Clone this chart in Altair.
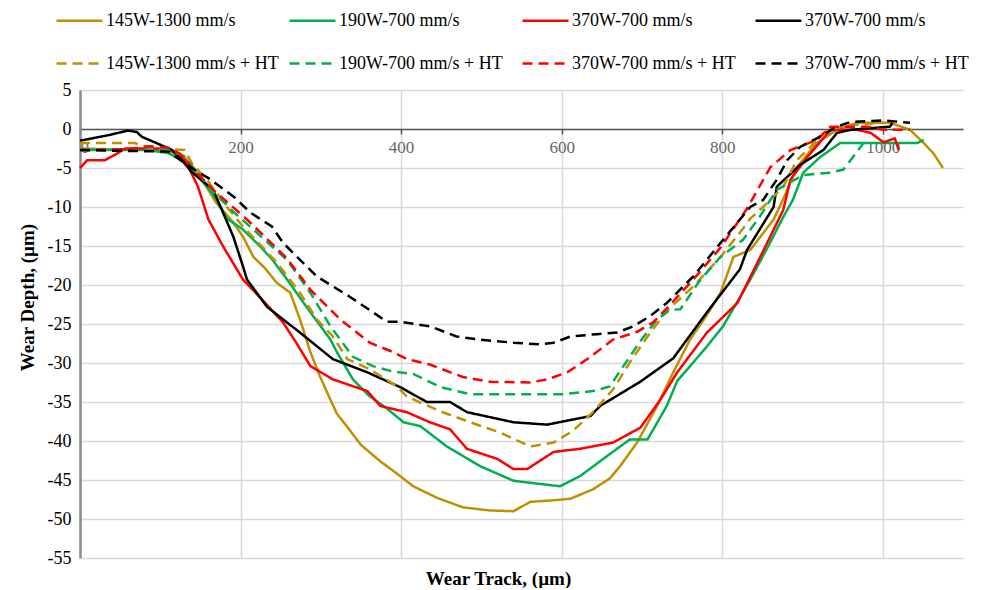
import altair as alt
import pandas as pd

# ---- data ----
names = ["145W-1300 mm/s", "190W-700 mm/s", "370W-700 mm/s", "370W-700 mm/s",
         "145W-1300 mm/s + HT", "190W-700 mm/s + HT", "370W-700 mm/s + HT", "370W-700 mm/s + HT"]
colors = ["#BF9000", "#00B050", "#FF0000", "#000000",
          "#BF9000", "#00B050", "#FF0000", "#000000"]
dashes = [[1, 0], [1, 0], [1, 0], [1, 0], [10, 6], [10, 6], [10, 6], [10, 6]]

s1_x = [0, 40, 80, 110, 130, 140, 155, 170, 191, 203, 216, 230, 245, 262, 274, 287, 298, 308, 320, 333, 350,
        374, 395, 415, 445, 477, 510, 540, 561, 590, 611, 639, 660, 673, 694, 719, 739, 760, 780, 798, 814,
        835, 850, 864, 876, 893, 918, 943, 968, 990, 1009, 1034, 1051, 1063, 1075]
s1_y = [-2.5, -2.6, -2.6, -2.8, -3.6, -4.8, -7, -9.5, -12, -13.8, -16.4, -17.8, -19.7, -21, -24.4, -28.6, -31.5,
        -33.8, -36.5, -38.2, -40.5, -42.6, -44.2, -45.8, -47.3, -48.5, -48.9, -49, -47.8, -47.6, -47.4, -46.2,
        -44.8, -43.2, -40.2, -35.5, -31.2, -27, -24, -21, -16.4, -15.5, -13.5, -11.6, -9, -4.9, -1.8, -0.1,
        0.8, 0.8, 0.8, -0.1, -1.8, -3.1, -5]

s2_x = [0, 40, 85, 110, 127, 139, 155, 168, 183, 202, 224, 240, 258, 287, 312, 320, 340, 360, 382, 403, 424,
        457, 498, 540, 573, 598, 623, 657, 685, 707, 731, 744, 760, 780, 801, 835, 856, 876, 888, 901, 922,
        947, 976, 1001, 1043, 1051]
s2_y = [-2.7, -2.7, -2.7, -3.1, -4, -5.2, -7, -8.7, -11.5, -12.8, -15, -16.8, -19.3, -23.5, -27, -28.6, -32.1,
        -34.2, -35.8, -37.6, -38.1, -40.7, -43.2, -45.1, -45.5, -45.8, -44.5, -41.9, -39.8, -39.8, -35.5,
        -32.3, -30.4, -28, -25.3, -19.3, -15.3, -11.3, -9.1, -5.6, -3.6, -1.8, -1.8, -1.8, -1.8, -1.4]

s3_x = [0, 9, 31, 47, 56, 97, 118, 131, 147, 160, 178, 203, 228, 253, 270, 287, 315, 358, 374, 390, 407, 436,
        461, 482, 520, 540, 557, 590, 623, 664, 698, 723, 744, 781, 819, 847, 876, 885, 906, 935, 968, 985,
        1001, 1015, 1020]
s3_y = [-5, -4, -4, -3.1, -2.5, -2.5, -2.9, -4, -7.4, -11.6, -15, -19.3, -22, -24.8, -27.5, -30.4, -32.1,
        -33.6, -35.5, -35.9, -36.3, -37.6, -38.5, -41, -42.3, -43.6, -43.6, -41.4, -41, -40.2, -38.3, -34.7,
        -31.2, -26.1, -22.3, -16.5, -10.4, -6.5, -3.6, -0.1, -0.1, -0.5, -1.7, -1.2, -2.7]

s4_x = [0, 35, 60, 71, 77, 93, 115, 127, 139, 166, 191, 203, 208, 233, 274, 315, 358, 399, 432, 461, 482, 540,
        582, 636, 648, 698, 739, 781, 822, 831, 864, 868, 897, 926, 943, 960, 1009, 1012]
s4_y = [-1.5, -0.8, -0.2, -0.4, -1, -1.7, -2.7, -4, -5.5, -7.8, -13.8, -17.6, -19.3, -22.8, -26.1, -29.5,
        -31.2, -33.1, -35, -35, -36.3, -37.6, -37.9, -36.8, -35.5, -32.4, -29.4, -23.5, -18, -15.5, -10,
        -7.4, -4.6, -2.7, -0.5, -0.1, 0.3, 0.8]

s5_x = [0, 68, 85, 130, 140, 158, 183, 203, 245, 274, 295, 315, 333, 361, 395, 407, 449, 486, 523, 561, 590,
        614, 639, 664, 685, 707, 731, 764, 798, 822, 835, 856, 876, 893, 910, 931, 960, 1000]
s5_y = [-1.8, -1.8, -2.4, -2.7, -4.5, -6.5, -10, -12.5, -17.1, -21, -24.4, -26.6, -29.5, -30.8, -33, -34.3,
        -36.2, -37.6, -38.9, -40.7, -40.2, -38.7, -36.3, -33.4, -29.9, -26.6, -23.3, -20.2, -16.4, -13.3,
        -11.5, -9.5, -7.4, -4, -2.3, -0.1, 0.5, 0.8]

s6_x = [0, 110, 130, 140, 166, 190, 216, 258, 287, 312, 340, 365, 390, 415, 449, 486, 540, 602, 639, 660, 677,
        698, 719, 735, 748, 773, 798, 826, 847, 868, 901, 935, 951, 963, 976, 985]
s6_y = [-2.7, -2.7, -3.5, -4.8, -8, -10.5, -12.9, -16.8, -21, -25.3, -29.2, -30.4, -31.1, -31.4, -33.1, -34,
        -34, -34, -33.6, -33, -30.4, -27.2, -24.4, -23.2, -23.1, -19.3, -16.4, -14.2, -11.2, -7.8, -5.9,
        -5.6, -5.2, -3.6, -1.8, -1.8]

s7_x = [0, 60, 85, 110, 125, 140, 166, 208, 258, 287, 324, 361, 390, 407, 436, 477, 511, 561, 582, 607, 632,
        664, 694, 714, 731, 764, 798, 831, 860, 885, 918, 935, 981, 1001, 1034]
s7_y = [-2.7, -2.6, -2.2, -2.4, -3.2, -5, -7.8, -11.6, -16.6, -20.6, -24.4, -27.4, -28.6, -29.5, -30.2,
        -31.8, -32.4, -32.5, -32.1, -31.2, -29.5, -27, -26, -24.8, -23, -19.3, -15.2, -10.2, -4.9, -2.7,
        -1.4, 0.3, 0.3, -0.1, -0.1]

s8_x = [0, 110, 139, 160, 193, 212, 239, 253, 295, 336, 365, 382, 399, 436, 469, 498, 540, 573, 590, 611, 644,
        669, 689, 710, 731, 764, 798, 835, 851, 868, 881, 897, 918, 943, 960, 1001, 1034]
s8_y = [-2.7, -2.9, -5, -6.3, -8.8, -10.7, -12.5, -14.6, -18.9, -21.5, -23.5, -24.7, -24.7, -25.3, -26.6,
        -27, -27.4, -27.6, -27.4, -26.6, -26.3, -26.1, -25.3, -24, -22.3, -18.9, -14.6, -10, -9.1, -6.5, -4,
        -2.3, -1.2, 0.3, 0.9, 1.1, 0.8]

x_ticks = [0, 200, 400, 600, 800, 1000]
y_ticks = [-55, -50, -45, -40, -35, -30, -25, -20, -15, -10, -5, 0, 5]

series_x = [s1_x, s2_x, s3_x, s4_x, s5_x, s6_x, s7_x, s8_x]
series_y = [s1_y, s2_y, s3_y, s4_y, s5_y, s6_y, s7_y, s8_y]

keys = [f"{i}|{n}" for i, n in enumerate(names)]
rows = []
for k, xs, ys in zip(keys, series_x, series_y):
    for xv, yv in zip(xs, ys):
        rows.append({"key": k, "x": xv, "y": yv})
df = pd.DataFrame(rows)

serif = "Liberation Serif"

legend = alt.Legend(
    orient="none", direction="horizontal", legendX=-25, legendY=-94, columns=4, gridAlign="all",
    columnPadding=5, rowPadding=9, symbolType="stroke", symbolSize=2116,
    symbolStrokeWidth=2.5, labelFont=serif, labelFontSize=18, labelLimit=300,
    labelOffset=2, labelColor="#000000", title=None, padding=0,
    labelExpr="split(datum.value, '|')[1]",
)

chart = alt.Chart(df).mark_line(strokeWidth=2.5).encode(
    x=alt.X("x:Q", scale=alt.Scale(domain=[0, 1100], nice=False),
            axis=alt.Axis(values=x_ticks, orient="bottom", offset=-429,
                          labelExpr="'' + datum.value",
                          title="Wear Track, (µm)", titleX=418, titleY=449,
                          titleBaseline="middle", titleAlign="center",
                          titleFont=serif, titleFontSize=19, titleFontWeight="bold", titleColor="#000000",
                          labelFont=serif, labelFontSize=17, labelColor="#666666", labelPadding=5,
                          domainColor="#555555", domainWidth=1.5,
                          tickColor="#555555", tickSize=5, tickWidth=1.5,
                          grid=True, gridColor="#d9d9d9", gridWidth=1.5)),
    y=alt.Y("y:Q", scale=alt.Scale(domain=[-55, 5], nice=False),
            axis=alt.Axis(values=y_ticks, title="Wear Depth, (µm)",
                          labelExpr="'' + datum.value",
                          titleX=-53, titleY=207, titleAngle=270,
                          titleBaseline="middle", titleAlign="center",
                          titleFont=serif, titleFontSize=19, titleFontWeight="bold", titleColor="#000000",
                          labelFont=serif, labelFontSize=18, labelColor="#000000", labelPadding=9,
                          ticks=False, domainColor="#8c8c8c", domainWidth=2.5,
                          grid=True, gridColor="#d9d9d9", gridWidth=1.5)),
    color=alt.Color("key:N", scale=alt.Scale(domain=keys, range=colors), legend=legend),
    strokeDash=alt.StrokeDash("key:N", scale=alt.Scale(domain=keys, range=dashes), legend=legend),
).properties(
    width=883, height=468,
    autosize=alt.AutoSizeParams(type="none"),
    padding={"left": 72, "top": 82, "right": 13, "bottom": 30},
).configure_view(strokeWidth=0)

chart.save("out.html", embed_options={"renderer": "svg", "actions": False})
